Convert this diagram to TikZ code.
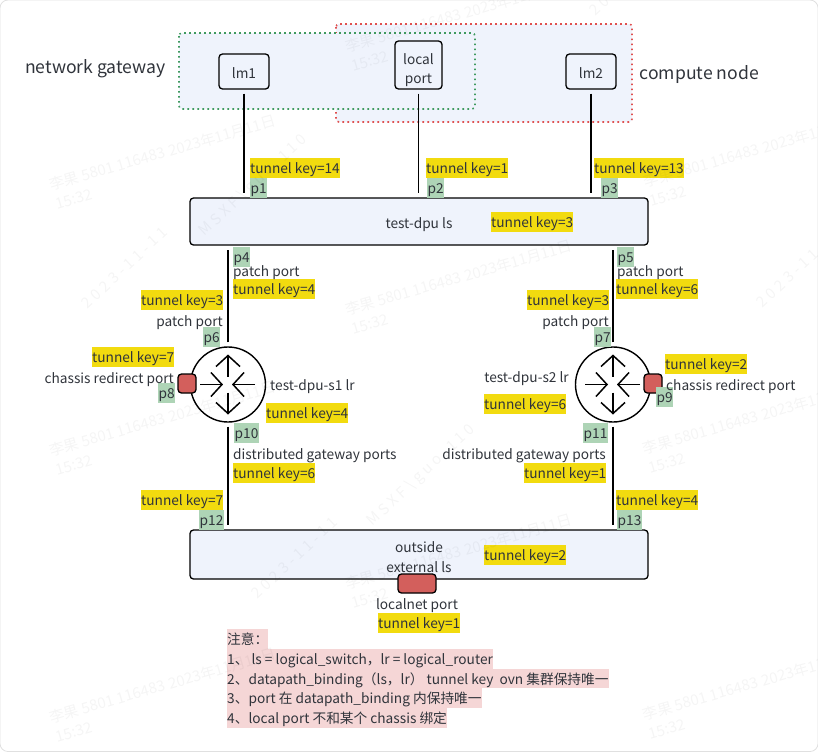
\documentclass[tikz,border=0pt]{standalone}
\usepackage{fontspec}
\setmainfont{Noto Sans CJK SC}
\usetikzlibrary{arrows.meta}
\definecolor{inktext}{HTML}{30343B}
\definecolor{panelblue}{HTML}{EFF3FC}
\definecolor{keyyellow}{HTML}{F2DB0F}
\definecolor{portgreen}{HTML}{AED4B6}
\definecolor{portred}{HTML}{D35F5C}
\definecolor{notepink}{HTML}{F5D6D6}
\definecolor{zonegreen}{HTML}{3F9A5F}
\definecolor{zonered}{HTML}{E0504F}
\tikzset{
	plain/.style={inner sep=0pt,text=inktext,font=\fontsize{13.7}{15}\selectfont,text height=13.5pt,text depth=2pt},
	keytag/.style={plain,fill=keyyellow,inner ysep=2.25pt},
	porttag/.style={plain,fill=portgreen,inner ysep=2.25pt,inner xsep=.5pt},
	notetag/.style={plain,fill=notepink,inner ysep=2pt,anchor=west},
	endbox/.style={draw=black,line width=1.3pt,rounded corners=3.5pt,fill=panelblue,inner sep=0pt,align=center,text=inktext,font=\fontsize{13.7}{19}\selectfont},
	bar/.style={draw=black,line width=1.3pt,rounded corners=3.5pt,fill=panelblue,minimum width=458pt,minimum height=47pt,inner sep=0pt},
	redport/.style={draw=black,line width=1.3pt,rounded corners=3.5pt,fill=portred,inner sep=0pt},
	router/.style={circle,draw=black,line width=1.4pt,fill=white,minimum size=75pt,inner sep=0pt},
	link/.style={line width=1.5pt,shorten >=4pt,shorten <=4pt},
	flow/.style={line width=1.5pt,-{Straight Barb[length=11pt,width=24pt]}},
	zone/.style={line width=1.6pt,dash pattern=on 1.6pt off 3.4pt,rounded corners=3pt,fill=panelblue},
	stamp/.style={rotate=16,anchor=south west,align=left,inner sep=0pt,text=black,text opacity=.04,font=\fontsize{15}{20}\selectfont},
	stampwide/.style={stamp,rotate=27,font=\fontsize{15}{20}\selectfont\addfontfeature{LetterSpace=25}}
}
\begin{document}
\begin{tikzpicture}[x=1pt,y=-1pt,line join=round]
	\useasboundingbox (0,0) rectangle (818,753);
	\draw[black!12,line width=.8pt,rounded corners=8pt] (0,0) rectangle (818,751.5);
	% zones
	\draw[zone,draw=zonered] (336,24) rectangle (632,122);
	\draw[zone,draw=zonegreen] (179,33) rectangle (475,109);
	\node[plain,anchor=west,font=\fontsize{17.6}{19}\selectfont] (gwname) at (25,68) {network gateway};
	\node[plain,anchor=west,font=\fontsize{17.6}{19}\selectfont] (cnname) at (639.5,74) {compute node};
	% boxes
	\node[endbox,minimum width=50pt,minimum height=35pt,text height=14pt,text depth=0pt] (lm1) at (244,71.5) {lm1};
	\node[endbox,minimum width=47pt,minimum height=48pt] (lp) at (418.5,65) {\rule{0pt}{22pt}local\\port};
	\node[endbox,minimum width=50pt,minimum height=35pt,text height=14pt,text depth=0pt] (lm2) at (591,71.5) {lm2};
	\node[bar] (ls) at (419,221.5) {};
	\node[bar,minimum height=49pt] (ext) at (419,554.5) {};
	\node[router] (r1) at (228,384.5) {};
	\node[router] (r2) at (613,384.5) {};
	\node[redport,minimum width=18pt,minimum height=19pt] (crp1) at (187,383.5) {};
	\node[redport,minimum width=18pt,minimum height=19pt] (crp2) at (653,383.5) {};
	\node[redport,minimum width=38pt,minimum height=19pt] (lnp) at (417,583.5) {};
	% links
	\draw[link] (lm1.south)--(lm1.south |- ls.north);
	\draw[link] (lp.south)--(lp.south |- ls.north);
	\draw[link] (lm2.south)--(lm2.south |- ls.north);
	\draw[link] (r1.north)--(r1.north |- ls.south);
	\draw[link] (r2.north)--(r2.north |- ls.south);
	\draw[link] (r1.south)--(r1.south |- ext.north);
	\draw[link] (r2.south)--(r2.south |- ext.north);
	% router arrows
	\foreach \r in {r1,r2}{
		\draw[flow] (\r)+(0,-8)--+(0,-30);
		\draw[flow] (\r)+(0,8)--+(0,30);
		\draw[flow] (\r)+(-28,0)--+(-5,0);
		\draw[flow] (\r)+(27,0)--+(4,0);
	}
	% tunnel keys
	\foreach \nm/\px/\py/\val in {k1/250/168/14,k2/426/168/1,k3/594/168/13,k4/491/222/3,
		k5/233/289/4,k6/141/300/3,k7/92/357/7,k8/266/413/4,k9/233/473/6,k10/141/500/7,
		k11/616/289/6,k12/527/300/3,k13/665/364/2,k14/484/404/6,k15/524/473/1,k16/616/500/4,
		k17/484/555/2,k18/378/623/1}
	\node[keytag,anchor=west] (\nm) at (\px,\py) {tunnel key=\val};
	% ports
	\foreach \nm/\px/\py in {p1/250/188,p2/427/188,p3/601/188,p4/233/257,p5/617/257,p6/203/337,
		p7/594/337,p8/158/393,p9/656/397,p10/234/433,p11/583/433,p12/199/520,p13/617/520}
	\node[porttag,anchor=west] (\nm) at (\px,\py) {\nm};
	% texts
	\foreach \nm/\anc/\px/\py/\txt in {t1/center/419/223/test-dpu ls,t2/west/233/271/patch port,
		t3/east/223/321/patch port,t4/west/617/271/patch port,t5/east/609/321/patch port,
		t6/east/174/378/chassis redirect port,t7/west/666/385/chassis redirect port,
		t8/west/270/385/test-dpu-s1 lr,t9/east/569/377/test-dpu-s2 lr,
		t10/west/233/454/distributed gateway ports,t11/east/606/454/distributed gateway ports,
		t12/center/419/547/outside,t13/center/419/567/external ls,t14/center/417/604/localnet port}
	\node[plain,anchor=\anc] (\nm) at (\px,\py) {\txt};
	% notes
	\node[notetag] (n0) at (227,639) {注意：\ };
	\node[notetag] (n1) at (227,659) {1、 ls = logical\_switch，lr = logical\_router};
	\node[notetag] (n2) at (227,678.5) {2、datapath\_binding（ls，lr） tunnel key\ \ ovn 集群保持唯一};
	\node[notetag] (n3) at (227,698) {3、port 在 datapath\_binding 内保持唯一};
	\node[notetag] (n4) at (227,718) {4、local port 不和某个 chassis 绑定};
	% watermark
	\foreach \px/\py in {57/210,353/72,353/335,57/476,651/207,650/474,353/609,57/743,650/740}
	\node[stamp] at (\px,\py) {李果 5801 116483 2023年11月11日\\15:32};
	\foreach \px/\py in {88/310,258/600,763/309,596/17}
	\node[stampwide] at (\px,\py) {2023-11-11};
	\foreach \px/\py in {207/240,375/530}
	\node[stampwide] at (\px,\py) {MSXF\textbackslash guo.110};
\end{tikzpicture}
\end{document}
